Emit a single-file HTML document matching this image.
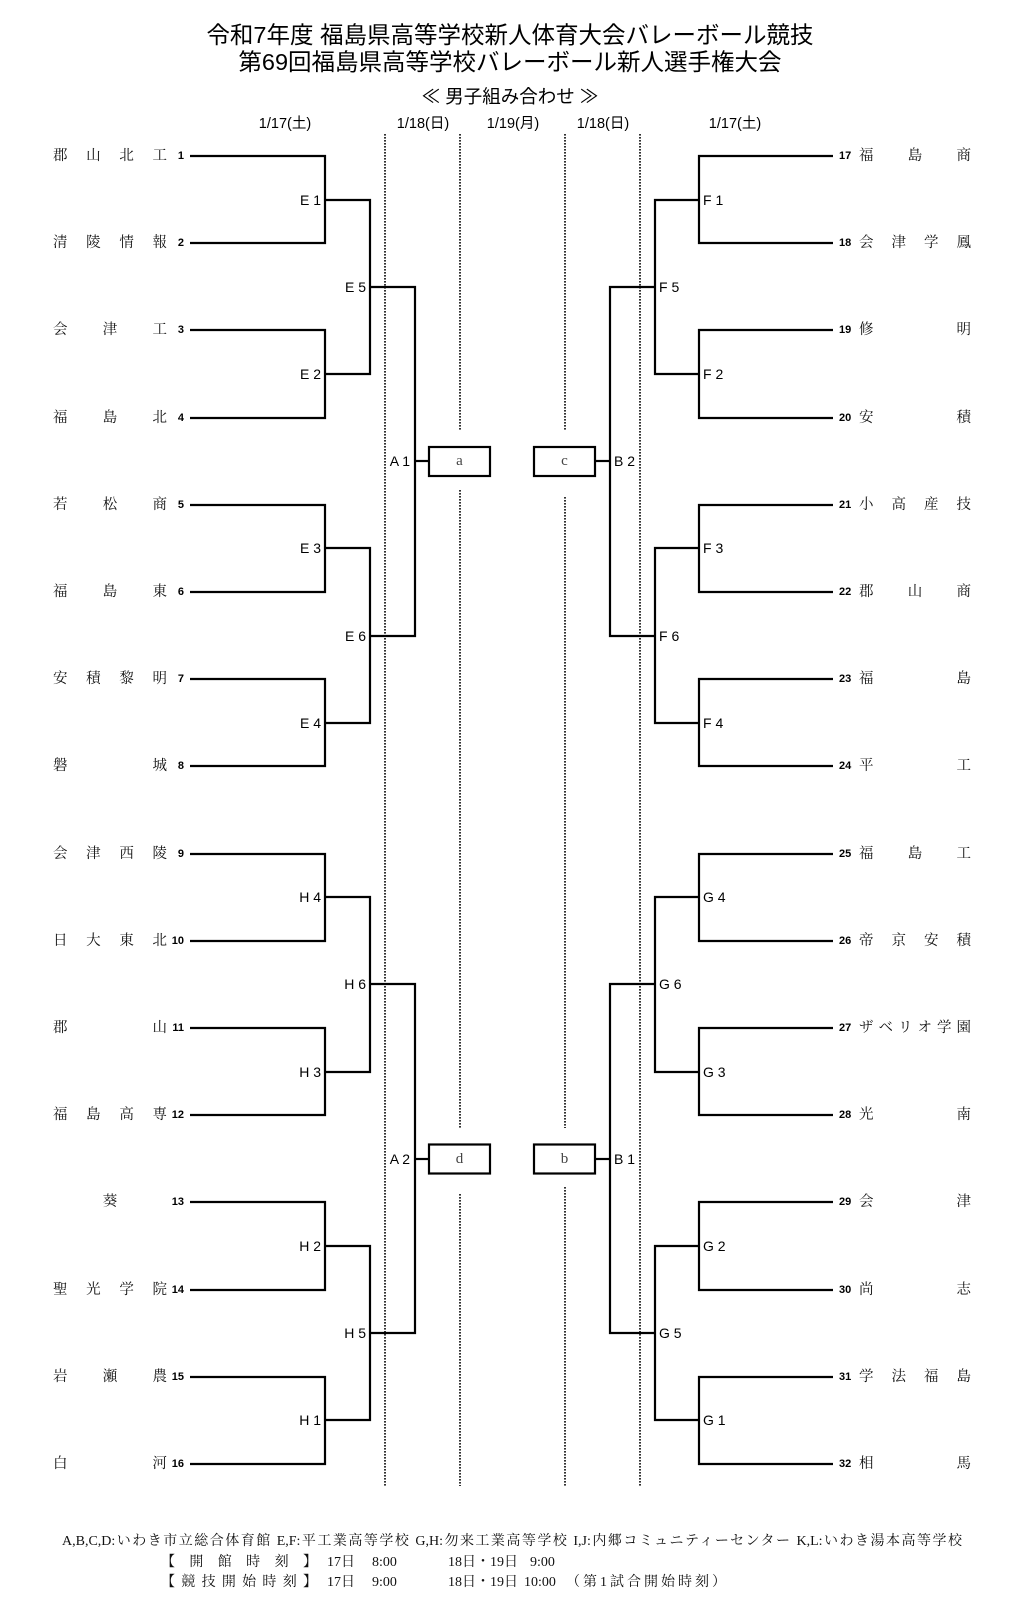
<!DOCTYPE html>
<html><head><meta charset="utf-8">
<style>
html,body{margin:0;padding:0;background:#fff;}
body{width:1020px;height:1606px;position:relative;overflow:hidden;}
svg{position:absolute;left:0;top:0;}
.t{position:absolute;left:0;width:1020px;text-align:center;font-family:"Liberation Sans","Noto Sans CJK JP",sans-serif;color:#000;white-space:pre;}
.n{position:absolute;height:20px;line-height:20px;display:flex;justify-content:space-between;font-family:"Liberation Serif","Noto Serif CJK SC",serif;font-size:14.5px;color:#111;}
.c{justify-content:center;}
.L{left:53px;width:114px;}
.R{left:859px;width:112px;}
.f{position:absolute;font-family:"Liberation Serif","Noto Serif CJK SC",serif;font-size:14px;line-height:20px;height:20px;white-space:nowrap;color:#111;}
.fj{left:62px;width:900px;white-space:normal;text-align:justify;text-align-last:justify;}
.fb{display:flex;justify-content:space-between;left:161px;width:156px;}
</style></head><body>

<div class="t" style="top:20px;line-height:30px;font-size:23.5px;">令和7年度 福島県高等学校新人体育大会バレーボール競技</div>
<div class="t" style="top:47px;line-height:30px;font-size:23.5px;">第69回福島県高等学校バレーボール新人選手権大会</div>
<div class="t" style="top:85px;line-height:24px;font-size:18.5px;">≪ 男子組み合わせ ≫</div>

<svg width="1020" height="1606" viewBox="0 0 1020 1606" xmlns="http://www.w3.org/2000/svg">
<g font-family="Liberation Sans, Noto Sans CJK JP, sans-serif" font-size="14.5" fill="#000" text-anchor="middle" dominant-baseline="central">
<text x="285" y="124">1/17(土)</text>
<text x="423" y="124">1/18(日)</text>
<text x="513" y="124">1/19(月)</text>
<text x="603" y="124">1/18(日)</text>
<text x="735" y="124">1/17(土)</text>
</g>

<g stroke="#000" stroke-width="1.6" stroke-dasharray="1.6 1.4" fill="none">
<line x1="385" y1="134" x2="385" y2="1486"/>
<line x1="640" y1="134" x2="640" y2="1486"/>
<line x1="460" y1="134" x2="460" y2="430"/>
<line x1="460" y1="490" x2="460" y2="1128"/>
<line x1="460" y1="1194" x2="460" y2="1486"/>
<line x1="565" y1="134" x2="565" y2="430"/>
<line x1="565" y1="497" x2="565" y2="1128"/>
<line x1="565" y1="1187" x2="565" y2="1486"/>
</g>

<g stroke="#000" stroke-width="2.2" fill="none">
<!-- left R1 -->
<path d="M190 156 H325 V243 H190"/>
<path d="M190 330 H325 V418 H190"/>
<path d="M190 505 H325 V592 H190"/>
<path d="M190 679 H325 V766 H190"/>
<path d="M190 854 H325 V941 H190"/>
<path d="M190 1028 H325 V1115 H190"/>
<path d="M190 1202 H325 V1290 H190"/>
<path d="M190 1377 H325 V1464 H190"/>
<!-- left R2 -->
<path d="M325 200 H370 V374 H325"/>
<path d="M325 548 H370 V723 H325"/>
<path d="M325 897 H370 V1072 H325"/>
<path d="M325 1246 H370 V1420 H325"/>
<!-- left R3 -->
<path d="M370 287 H415 V636 H370"/>
<path d="M370 984 H415 V1333 H370"/>
<path d="M415 461 H429"/>
<path d="M415 1159 H429"/>
<rect x="429" y="447" width="61" height="29"/>
<rect x="429" y="1144.5" width="61" height="29"/>
<!-- right R1 -->
<path d="M833 156 H699 V243 H833"/>
<path d="M833 330 H699 V418 H833"/>
<path d="M833 505 H699 V592 H833"/>
<path d="M833 679 H699 V766 H833"/>
<path d="M833 854 H699 V941 H833"/>
<path d="M833 1028 H699 V1115 H833"/>
<path d="M833 1202 H699 V1290 H833"/>
<path d="M833 1377 H699 V1464 H833"/>
<!-- right R2 -->
<path d="M699 200 H655 V374 H699"/>
<path d="M699 548 H655 V723 H699"/>
<path d="M699 897 H655 V1072 H699"/>
<path d="M699 1246 H655 V1420 H699"/>
<!-- right R3 -->
<path d="M655 287 H610 V636 H655"/>
<path d="M655 984 H610 V1333 H655"/>
<path d="M610 461 H595"/>
<path d="M610 1159 H595"/>
<rect x="534" y="447" width="61" height="29"/>
<rect x="534" y="1144.5" width="61" height="29"/>
</g>

<g font-family="Liberation Serif, Noto Serif CJK SC, serif" font-size="15" fill="#444" text-anchor="middle" dominant-baseline="central">
<text x="459.5" y="461">a</text>
<text x="564.5" y="461">c</text>
<text x="459.5" y="1159">d</text>
<text x="564.5" y="1159">b</text>
</g>

<g font-family="Liberation Sans, sans-serif" font-size="14" fill="#000" dominant-baseline="central" text-anchor="end">
<text x="321" y="200">E 1</text>
<text x="321" y="374">E 2</text>
<text x="321" y="548">E 3</text>
<text x="321" y="723">E 4</text>
<text x="321" y="897">H 4</text>
<text x="321" y="1072">H 3</text>
<text x="321" y="1246">H 2</text>
<text x="321" y="1420">H 1</text>
<text x="366" y="287">E 5</text>
<text x="366" y="636">E 6</text>
<text x="366" y="984">H 6</text>
<text x="366" y="1333">H 5</text>
<text x="410" y="461">A 1</text>
<text x="410" y="1159">A 2</text>
</g>
<g font-family="Liberation Sans, sans-serif" font-size="14" fill="#000" dominant-baseline="central" text-anchor="start">
<text x="703" y="200">F 1</text>
<text x="703" y="374">F 2</text>
<text x="703" y="548">F 3</text>
<text x="703" y="723">F 4</text>
<text x="703" y="897">G 4</text>
<text x="703" y="1072">G 3</text>
<text x="703" y="1246">G 2</text>
<text x="703" y="1420">G 1</text>
<text x="659" y="287">F 5</text>
<text x="659" y="636">F 6</text>
<text x="659" y="984">G 6</text>
<text x="659" y="1333">G 5</text>
<text x="614" y="461">B 2</text>
<text x="614" y="1159">B 1</text>
</g>

<g font-family="Liberation Sans, sans-serif" font-size="11" font-weight="bold" fill="#000" dominant-baseline="central" text-anchor="end">
<text x="184" y="156">1</text>
<text x="184" y="243">2</text>
<text x="184" y="330">3</text>
<text x="184" y="418">4</text>
<text x="184" y="505">5</text>
<text x="184" y="592">6</text>
<text x="184" y="679">7</text>
<text x="184" y="766">8</text>
<text x="184" y="854">9</text>
<text x="184" y="941">10</text>
<text x="184" y="1028">11</text>
<text x="184" y="1115">12</text>
<text x="184" y="1202">13</text>
<text x="184" y="1290">14</text>
<text x="184" y="1377">15</text>
<text x="184" y="1464">16</text>
</g>
<g font-family="Liberation Sans, sans-serif" font-size="11" font-weight="bold" fill="#000" dominant-baseline="central" text-anchor="start">
<text x="839" y="156">17</text>
<text x="839" y="243">18</text>
<text x="839" y="330">19</text>
<text x="839" y="418">20</text>
<text x="839" y="505">21</text>
<text x="839" y="592">22</text>
<text x="839" y="679">23</text>
<text x="839" y="766">24</text>
<text x="839" y="854">25</text>
<text x="839" y="941">26</text>
<text x="839" y="1028">27</text>
<text x="839" y="1115">28</text>
<text x="839" y="1202">29</text>
<text x="839" y="1290">30</text>
<text x="839" y="1377">31</text>
<text x="839" y="1464">32</text>
</g>
</svg>

<!-- left names -->
<div class="n L" style="top:146px"><span>郡</span><span>山</span><span>北</span><span>工</span></div>
<div class="n L" style="top:233px"><span>清</span><span>陵</span><span>情</span><span>報</span></div>
<div class="n L" style="top:320px"><span>会</span><span>津</span><span>工</span></div>
<div class="n L" style="top:408px"><span>福</span><span>島</span><span>北</span></div>
<div class="n L" style="top:495px"><span>若</span><span>松</span><span>商</span></div>
<div class="n L" style="top:582px"><span>福</span><span>島</span><span>東</span></div>
<div class="n L" style="top:669px"><span>安</span><span>積</span><span>黎</span><span>明</span></div>
<div class="n L" style="top:756px"><span>磐</span><span>城</span></div>
<div class="n L" style="top:844px"><span>会</span><span>津</span><span>西</span><span>陵</span></div>
<div class="n L" style="top:931px"><span>日</span><span>大</span><span>東</span><span>北</span></div>
<div class="n L" style="top:1018px"><span>郡</span><span>山</span></div>
<div class="n L" style="top:1105px"><span>福</span><span>島</span><span>高</span><span>専</span></div>
<div class="n L c" style="top:1192px"><span>葵</span></div>
<div class="n L" style="top:1280px"><span>聖</span><span>光</span><span>学</span><span>院</span></div>
<div class="n L" style="top:1367px"><span>岩</span><span>瀬</span><span>農</span></div>
<div class="n L" style="top:1454px"><span>白</span><span>河</span></div>

<!-- right names -->
<div class="n R" style="top:146px"><span>福</span><span>島</span><span>商</span></div>
<div class="n R" style="top:233px"><span>会</span><span>津</span><span>学</span><span>鳳</span></div>
<div class="n R" style="top:320px"><span>修</span><span>明</span></div>
<div class="n R" style="top:408px"><span>安</span><span>積</span></div>
<div class="n R" style="top:495px"><span>小</span><span>高</span><span>産</span><span>技</span></div>
<div class="n R" style="top:582px"><span>郡</span><span>山</span><span>商</span></div>
<div class="n R" style="top:669px"><span>福</span><span>島</span></div>
<div class="n R" style="top:756px"><span>平</span><span>工</span></div>
<div class="n R" style="top:844px"><span>福</span><span>島</span><span>工</span></div>
<div class="n R" style="top:931px"><span>帝</span><span>京</span><span>安</span><span>積</span></div>
<div class="n R" style="top:1018px"><span>ザ</span><span>ベ</span><span>リ</span><span>オ</span><span>学</span><span>園</span></div>
<div class="n R" style="top:1105px"><span>光</span><span>南</span></div>
<div class="n R" style="top:1192px"><span>会</span><span>津</span></div>
<div class="n R" style="top:1280px"><span>尚</span><span>志</span></div>
<div class="n R" style="top:1367px"><span>学</span><span>法</span><span>福</span><span>島</span></div>
<div class="n R" style="top:1454px"><span>相</span><span>馬</span></div>

<!-- footer -->
<div class="f fj" style="top:1532px">A,B,C,D:いわき市立総合体育館 E,F:平工業高等学校 G,H:勿来工業高等学校 I,J:内郷コミュニティーセンター K,L:いわき湯本高等学校</div>

<div class="f fb" style="top:1553px"><span>【</span><span>開</span><span>館</span><span>時</span><span>刻</span><span>】</span></div>
<div class="f" style="top:1553px;left:327px">17日</div>
<div class="f" style="top:1553px;left:372px">8:00</div>
<div class="f" style="top:1553px;left:448px">18日・19日</div>
<div class="f" style="top:1553px;left:530px">9:00</div>

<div class="f fb" style="top:1573px"><span>【</span><span>競</span><span>技</span><span>開</span><span>始</span><span>時</span><span>刻</span><span>】</span></div>
<div class="f" style="top:1573px;left:327px">17日</div>
<div class="f" style="top:1573px;left:372px">9:00</div>
<div class="f" style="top:1573px;left:448px">18日・19日</div>
<div class="f" style="top:1573px;left:524px">10:00</div>
<div class="f" style="top:1573px;left:566px;letter-spacing:3px">（第1試合開始時刻）</div>

</body></html>
